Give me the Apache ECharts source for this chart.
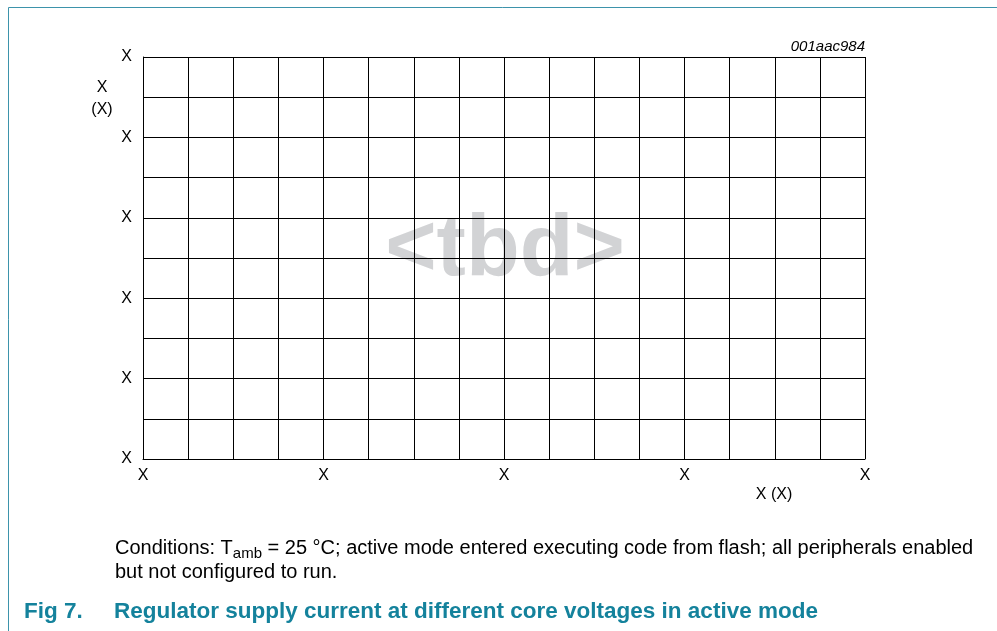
<!DOCTYPE html>
<html>
<head>
<meta charset="utf-8">
<script src="https://cdn.jsdelivr.net/npm/echarts@6/dist/echarts.min.js"></script>
<style>
  html, body { margin: 0; padding: 0; background: #fff; }
  #chart { width: 997px; height: 631px; }
</style>
</head>
<body>
<div id="chart"></div>
<script>
// axis ranges and tick labels (placeholder graph, no curves yet)
const xTickLabels = ["X", "X", "X", "X", "X"];
const yTickLabels = ["X", "X", "X", "X", "X", "X"];
const xMax = 16;
const yMax = 10;
const xName = "X (X)";
const yName = "X\n(X)";
const figCode = "001aac984";

const teal = "#14829c";
const font = "'Liberation Sans', Arial, sans-serif";

let chart = echarts.init(document.getElementById("chart"));

let option = {
  animation: false,
  grid: { left: 143, right: 132, top: 57, bottom: 172 },
  xAxis: {
    type: "value",
    min: 0,
    max: xMax,
    interval: 4,
    axisLine: { show: true, lineStyle: { color: "#000", width: 1 } },
    axisTick: { show: false },
    axisLabel: {
      color: "#000", fontFamily: font, fontSize: 16, margin: 9,
      formatter: (v) => xTickLabels[Math.round(v / 4)] || ""
    },
    splitLine: { show: true, lineStyle: { color: "#000", width: 1 } },
    minorTick: { show: false, splitNumber: 4 },
    minorSplitLine: { show: true, lineStyle: { color: "#000", width: 1 } }
  },
  yAxis: {
    type: "value",
    min: 0,
    max: yMax,
    interval: 2,
    axisLine: { show: true, lineStyle: { color: "#000", width: 1 } },
    axisTick: { show: false },
    axisLabel: {
      color: "#000", fontFamily: font, fontSize: 16, margin: 11,
      formatter: (v) => yTickLabels[Math.round(v / 2)] || ""
    },
    splitLine: { show: true, lineStyle: { color: "#000", width: 1 } },
    minorTick: { show: false, splitNumber: 2 },
    minorSplitLine: { show: true, lineStyle: { color: "#000", width: 1 } }
  },
  series: [],
  graphic: [
    // frame
    { type: "line", shape: { x1: 8.5, y1: 7.5, x2: 997, y2: 7.5 }, style: { stroke: "#3d93ab", lineWidth: 1 } },
    { type: "line", shape: { x1: 8.5, y1: 7.5, x2: 8.5, y2: 631 }, style: { stroke: "#3d93ab", lineWidth: 1 } },
    // placeholder watermark behind the grid
    {
      type: "text", x: 505, y: 251, z: -10,
      style: { text: "<tbd>", font: "bold 88px " + font, fill: "#d2d3d5", align: "center", verticalAlign: "middle" }
    },
    {
      type: "text", x: 865, y: 47,
      style: { text: figCode, font: "italic 15px " + font, fill: "#000", align: "right", verticalAlign: "middle" }
    },
    {
      type: "text", x: 102, y: 98.5,
      style: { text: yName, font: "16px " + font, fill: "#000", align: "center", verticalAlign: "middle", lineHeight: 22 }
    },
    {
      type: "text", x: 774, y: 495,
      style: { text: xName, font: "16px " + font, fill: "#000", align: "center", verticalAlign: "middle" }
    },
    // caption
    {
      type: "text", x: 115, y: 548.5,
      style: {
        text: "Conditions: T{sub|amb} = 25 °C; active mode entered executing code from flash; all peripherals enabled",
        font: "20px " + font, fill: "#000", verticalAlign: "middle",
        rich: {
          sub: { fontSize: 15, fontFamily: font, fill: "#000", padding: [10, 0, 0, 0] }
        }
      }
    },
    {
      type: "text", x: 115, y: 572,
      style: { text: "but not configured to run.", font: "20px " + font, fill: "#000", verticalAlign: "middle" }
    },
    {
      type: "text", x: 24, y: 611.5,
      style: { text: "Fig 7.", font: "bold 22.5px " + font, fill: teal, verticalAlign: "middle" }
    },
    {
      type: "text", x: 114, y: 611.5,
      style: { text: "Regulator supply current at different core voltages in active mode", font: "bold 22.5px " + font, fill: teal, verticalAlign: "middle" }
    }
  ]
};

chart.setOption(option);
</script>
</body>
</html>
